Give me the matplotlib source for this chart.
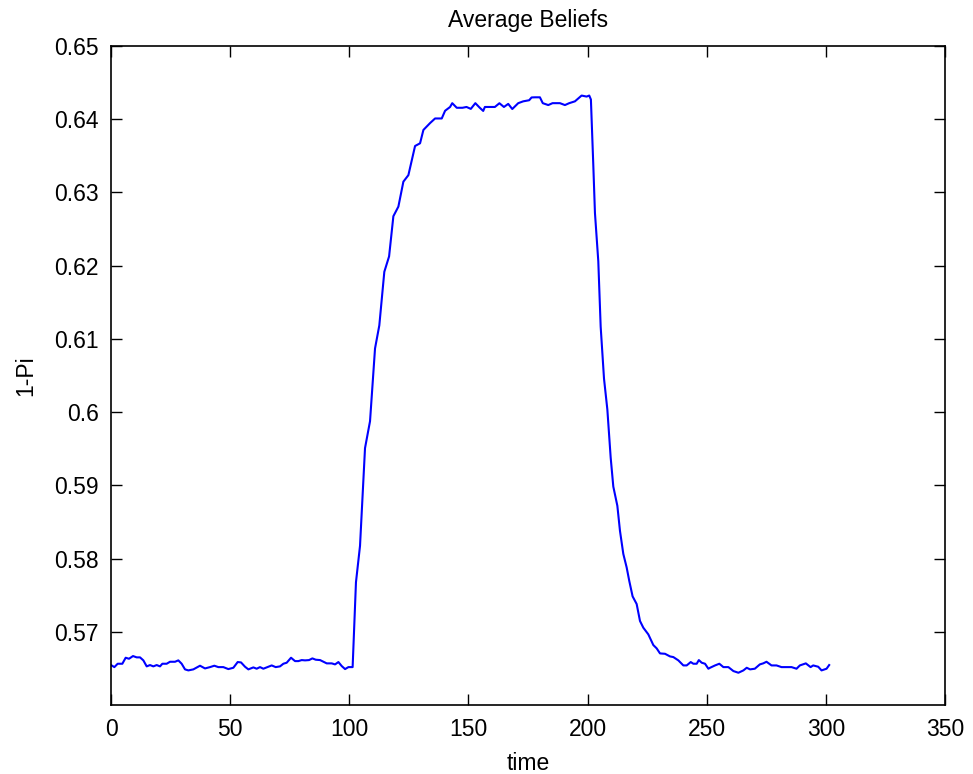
import numpy as np
import matplotlib.pyplot as plt

plt.rcParams['font.family'] = ['Liberation Sans', 'DejaVu Sans']

# values
time = [0, 1.4, 2.8, 4.75, 6.15, 7.55, 9.23, 10.77, 12.17, 13.57, 14.97, 16.37,
        17.76, 19.16, 20.56, 21.54, 23.36, 24.76, 26.86, 28.25, 29.65, 31.05,
        32.45, 34.55, 37.35, 39.44, 41.54, 43.36, 45.04, 47.14, 49.24, 51.34,
        53.16, 54.56, 56.24, 57.64, 59.74, 61.13, 62.53, 63.93, 66.03, 67.43,
        69.11, 70.93, 72.33, 73.73, 75.55, 77.23, 78.63, 80.03, 81.43, 83.11,
        84.51, 85.91, 87.73, 89.13, 90.53, 92.63, 94.03, 95.43, 96.83, 98.23,
        99.63, 101.4,
        102.8, 104.5, 106.6, 108.7, 110.8, 112.6, 114.7, 116.7, 118.5, 120.6,
        122.7, 124.8, 127.6, 129.7, 131.1, 133.9, 136.0, 138.8, 140.2, 142.3,
        143.2, 145.1, 147.5, 149.2, 151.0, 152.9, 154.8, 156.2, 156.9, 161.1,
        163.0, 164.9, 166.7, 168.4, 170.9, 173.0, 175.5, 176.5, 177.9, 180.0,
        181.2, 183.5, 185.3, 188.4, 190.5, 192.3, 194.7, 197.5, 199.6, 200.7,
        201.4, 201.7, 202.4, 203.1, 204.5, 205.5, 206.9, 208.3, 209.7, 210.8,
        212.5, 213.6, 215.0, 216.4, 217.5, 218.9, 220.6, 222.0, 223.4, 225.5,
        227.6, 229.0, 230.4, 232.5, 234.6, 236.0, 238.1, 240.2, 241.6, 243.3,
        244.4, 245.8, 246.7, 247.9, 249.3, 250.7, 251.4, 253.5, 255.3, 257.0,
        259.1, 261.2, 263.3, 265.4, 266.8, 268.2, 270.2, 272.3, 273.7, 275.1,
        277.2, 279.3, 281.4, 283.5, 285.6, 287.7, 289.1, 291.6, 293.6, 294.7,
        296.8, 298.2, 300.3, 301.4]

belief = [0.56546, 0.56518, 0.56564, 0.56564, 0.56646, 0.56632, 0.56669, 0.56651,
          0.56651, 0.56610, 0.56528, 0.56546, 0.56528, 0.56546, 0.56528, 0.56564,
          0.56564, 0.56591, 0.56591, 0.56610, 0.56564, 0.56487, 0.56473, 0.56487,
          0.56537, 0.56500, 0.56518, 0.56537, 0.56518, 0.56518, 0.56491, 0.56509,
          0.56587, 0.56582, 0.56523, 0.56487, 0.56514, 0.56496, 0.56518, 0.56496,
          0.56523, 0.56541, 0.56518, 0.56528, 0.56564, 0.56578, 0.56646, 0.56600,
          0.56600, 0.56614, 0.56610, 0.56614, 0.56637, 0.56619, 0.56614, 0.56591,
          0.56569, 0.56569, 0.56555, 0.56587, 0.56532, 0.56491, 0.56518, 0.56518,
          0.57677, 0.58174, 0.59509, 0.59876, 0.60870, 0.61185, 0.61917, 0.62127,
          0.62676, 0.62807, 0.63148, 0.63237, 0.63635, 0.63672, 0.63854, 0.63948,
          0.64011, 0.64011, 0.64116, 0.64168, 0.64220, 0.64157, 0.64157, 0.64168,
          0.64142, 0.64220, 0.64156, 0.64114, 0.64168, 0.64168, 0.64219, 0.64168,
          0.64210, 0.64140, 0.64220, 0.64245, 0.64260, 0.64298, 0.64300, 0.64300,
          0.64220, 0.64194, 0.64220, 0.64220, 0.64194, 0.64220, 0.64245, 0.64324,
          0.64310, 0.64324, 0.64270, 0.64008, 0.63378, 0.62720, 0.62062, 0.61167,
          0.60458, 0.60037, 0.59379, 0.58984, 0.58721, 0.58379, 0.58064, 0.57880,
          0.57695, 0.57484, 0.57380, 0.57148, 0.57056, 0.56965, 0.56819, 0.56774,
          0.56705, 0.56700, 0.56664, 0.56655, 0.56610, 0.56541, 0.56541, 0.56587,
          0.56564, 0.56564, 0.56614, 0.56578, 0.56564, 0.56496, 0.56509, 0.56541,
          0.56564, 0.56518, 0.56518, 0.56464, 0.56441, 0.56473, 0.56509, 0.56487,
          0.56496, 0.56555, 0.56569, 0.56591, 0.56541, 0.56541, 0.56518, 0.56518,
          0.56518, 0.56496, 0.56541, 0.56569, 0.56518, 0.56541, 0.56523, 0.56473,
          0.56496, 0.56546]

xticks = [0, 50, 100, 150, 200, 250, 300, 350]
yticks = [0.57, 0.58, 0.59, 0.6, 0.61, 0.62, 0.63, 0.64, 0.65]
ylabels = ['0.57', '0.58', '0.59', '0.6', '0.61', '0.62', '0.63', '0.64', '0.65']

fig = plt.figure(figsize=(9.73, 7.74), dpi=100)
ax = fig.add_axes([0.1141, 0.0891, 0.8571, 0.8514])

ax.plot(time, belief, color='#0000ff', lw=1.5)

ax.set_xlim(0, 350)
ax.set_ylim(0.56, 0.65)
ax.set_xticks(xticks)
ax.set_yticks(yticks)
ax.set_yticklabels(ylabels)
ax.tick_params(direction='in', top=True, right=True, length=8, width=1,
               labelsize=16.5, pad=9)
for s in ax.spines.values():
    s.set_linewidth(1.2)

ax.set_title('Average Beliefs', fontsize=16.5, pad=14)
ax.set_xlabel('time', fontsize=16.5, labelpad=8)
ax.set_ylabel('1-Pi', fontsize=16.5, labelpad=12)

fig.savefig('out.png', dpi=100)
